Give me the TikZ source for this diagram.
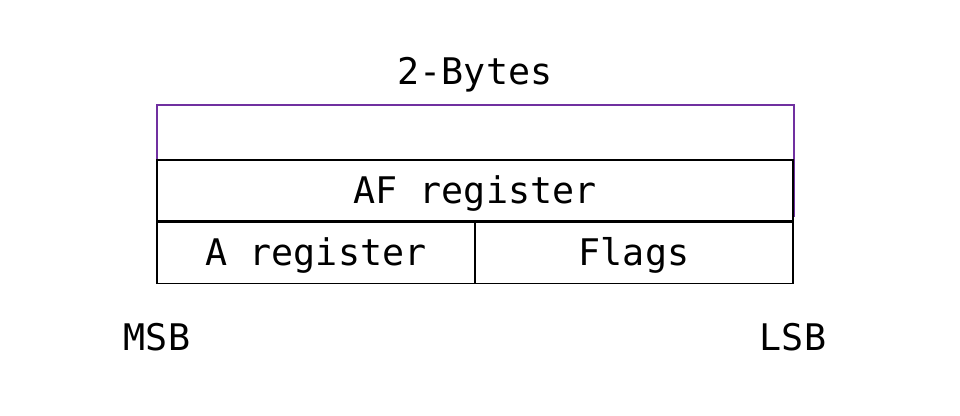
\documentclass[tikz,border=0pt]{standalone}
\usepackage{fontspec}
\setmainfont{DejaVu Sans Mono}
\definecolor{bytepurple}{HTML}{7030A0}

\begin{document}
\begin{tikzpicture}
  [x=0.75pt,y=0.75pt,font=\fontsize{27.5}{32}\selectfont,
   reg/.style={draw,line width=1.2pt,fill=white,minimum height=45.75pt,inner sep=0pt,text depth=0.2em}]
  \useasboundingbox (0,0) rectangle (960,416);
  \node[draw=bytepurple,line width=1.6pt,minimum width=477.75pt,minimum height=83.25pt,inner sep=0pt] (span) at (475.5,255.5) {};
  \node[reg,minimum width=477pt] (af) at (475,225.5) {AF register};
  \node[reg,minimum width=238.5pt,anchor=north west] (a) at (af.south west) {A register};
  \node[reg,minimum width=238.5pt,anchor=north east] (flags) at (af.south east) {Flags};

  \node (bytes) at (475,341) {2-Bytes};
  \node (msb) at (157,79) {MSB};
  \node (lsb) at (793,79) {LSB};
\end{tikzpicture}
\end{document}
